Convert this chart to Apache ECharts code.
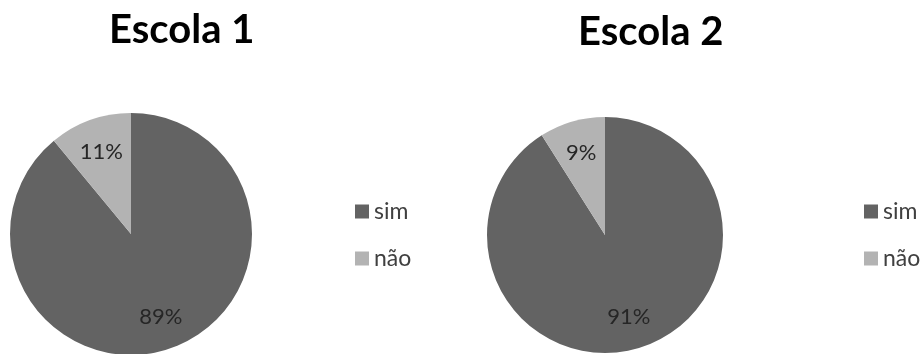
<!DOCTYPE html>
<html>
<head>
<meta charset="utf-8">
<script src="https://cdn.jsdelivr.net/npm/echarts@6/dist/echarts.min.js"></script>
<style>
  html, body { margin: 0; padding: 0; background: #fff; }
  #chart { width: 924px; height: 354px; }
</style>
</head>
<body>
<div id="chart"></div>
<script>
// dados
const categories = ['sim', 'não']
const escola1 = [89, 11]
const escola2 = [91, 9]
const titulos = ['Escola 1', 'Escola 2']

const cores = ['#636363', '#b3b3b3']
const fonte = 'Lato, "Open Sans", sans-serif'

const chart = echarts.init(document.getElementById('chart'))

const toData = vals => categories.map((name, i) => ({ name, value: vals[i] }))

// fatia cheia + anel transparente só para os rótulos (~0.7 do raio)
const makePie = (vals, center, r) => [
  {
    type: 'pie',
    center: center,
    radius: [0, r],
    startAngle: 90,
    clockwise: true,
    silent: true,
    label: { show: false },
    labelLine: { show: false },
    data: toData(vals),
  },
  {
    type: 'pie',
    center: center,
    radius: [r * 0.4, r],
    startAngle: 90,
    clockwise: true,
    silent: true,
    itemStyle: { color: 'transparent' },
    label: {
      show: true,
      position: 'inside',
      formatter: '{c}%',
      fontFamily: fonte,
      fontSize: 22,
      color: '#262626',
    },
    labelLine: { show: false },
    data: toData(vals),
  },
]

const legendBase = {
  orient: 'vertical',
  data: categories,
  icon: 'rect',
  itemWidth: 14,
  itemHeight: 14,
  itemGap: 24,
  selectedMode: false,
  textStyle: { fontFamily: fonte, fontSize: 23, color: '#404040' },
}

const option = {
  color: cores,
  animation: false,
  title: [
    { text: titulos[0], left: 104, top: 5 },
    { text: titulos[1], left: 573, top: 7 },
  ].map(t => ({
    ...t,
    textStyle: { fontFamily: fonte, fontSize: 40, fontWeight: 'bold', color: '#000' },
  })),
  legend: [
    { ...legendBase, left: 350, top: 195 },
    { ...legendBase, left: 859, top: 195 },
  ],
  series: [
    ...makePie(escola1, [131, 234], 121),
    ...makePie(escola2, [605, 235], 118),
  ],
}

chart.setOption(option)
window.addEventListener('resize', () => chart.resize())
</script>
</body>
</html>
